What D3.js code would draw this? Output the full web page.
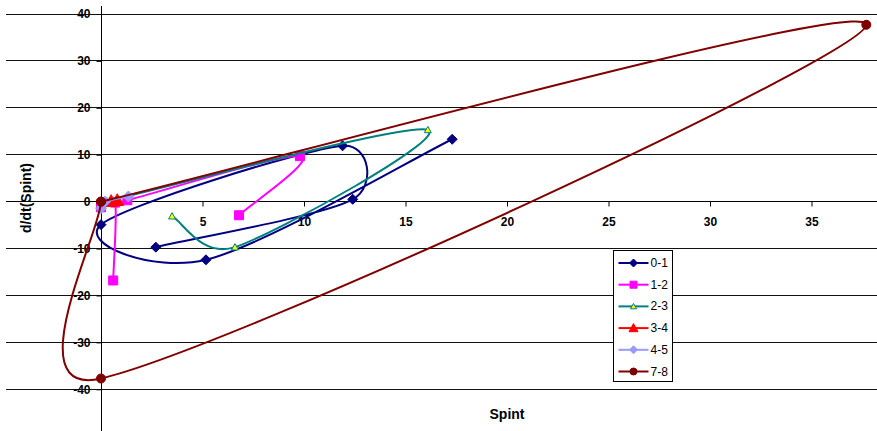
<!DOCTYPE html>
<html>
<head>
<meta charset="utf-8">
<script src="https://cdn.jsdelivr.net/npm/d3@7"></script>
<style>
html, body { margin: 0; padding: 0; background: #fff; }
svg { display: block; font-family: Arial, "Liberation Sans", sans-serif; }
</style>
</head>
<body>
<div id="chart"></div>
<script>
// values: [Spint, d/dt(Spint)]
const seriesNames = ["0-1", "1-2", "2-3", "3-4", "4-5", "7-8"];
const s01 = [[2.7, -9.7], [12.4, 0.5], [11.9, 11.9], [0, -4.9], [5.17, -12.4], [17.3, 13.3]];
const s12 = [[0.6, -16.8], [0.7, -0.2], [0, -1.2], [1.3, 0.3], [9.8, 9.7], [6.8, -2.9]];
const s23 = [[3.5, -3.1], [6.6, -9.7], [16.1, 15.3], [0.3, 0.1]];
const s34 = [[0.5, 0.1], [0.8, 0.3]];
const s45 = [[0, -1.4], [0.2, 0], [1.35, 1.1]];
const s78 = [[0, 0], [37.7, 37.7], [0, -37.7], [0, 0]];
const allSeries = [s01, s12, s23, s34, s45, s78];

const xTicks = [5, 10, 15, 20, 25, 30, 35];
const yTicks = [-40, -30, -20, -10, 0, 10, 20, 30, 40];

// styles
const lineColors = ["#000080", "#FF00FF", "#008080", "#FF0000", "#9999FF", "#800000"];
const markerFill = ["#000080", "#FF00FF", "#FFFF00", "#FF0000", "#9999FF", "#800000"];
const markerShape = ["diamond", "square", "triangle", "triangle", "diamond", "circle"];
const markerSize = [5, 4.5, 3.5, 6.5, 5.5, 4.5];
const legendSize = [4, 3.5, 3, 4.5, 4, 3.5];

const width = 877, height = 431;

const svg = d3.select("#chart")
  .append("svg")
  .attr("width", width)
  .attr("height", height);

svg.append("rect").attr("width", width).attr("height", height).attr("fill", "#fff");

const x = d3.scaleLinear().domain([0, 35]).range([101, 811.5]);
const y = d3.scaleLinear().domain([-40, 40]).range([389.3, 14]);

// marker shapes, size = half width
const shapes = {
  diamond: { draw(c, r) { c.moveTo(0, -r); c.lineTo(r, 0); c.lineTo(0, r); c.lineTo(-r, 0); c.closePath(); } },
  square: { draw(c, r) { c.rect(-r, -r, 2 * r, 2 * r); } },
  triangle: { draw(c, r) { c.moveTo(0, -r); c.lineTo(r, r * 0.8); c.lineTo(-r, r * 0.8); c.closePath(); } },
  circle: { draw(c, r) { c.moveTo(r, 0); c.arc(0, 0, r, 0, 2 * Math.PI); } }
};

// Excel-like smoothed line: 1/6 tangents, clamped to half the segment
function ExcelSmooth(context) { this._context = context; }
ExcelSmooth.prototype = {
  areaStart() {}, areaEnd() {},
  lineStart() { this._pts = []; },
  point(px, py) { this._pts.push([+px, +py]); },
  lineEnd() {
    const p = this._pts, c = this._context, n = p.length;
    if (!n) return;
    c.moveTo(p[0][0], p[0][1]);
    for (let i = 0; i < n - 1; i++) {
      const p0 = p[Math.max(i - 1, 0)], p1 = p[i], p2 = p[i + 1], p3 = p[Math.min(i + 2, n - 1)];
      const half = Math.hypot(p2[0] - p1[0], p2[1] - p1[1]) / 2;
      let ax = (p2[0] - p0[0]) / 6, ay = (p2[1] - p0[1]) / 6;
      let bx = (p3[0] - p1[0]) / 6, by = (p3[1] - p1[1]) / 6;
      const la = Math.hypot(ax, ay), lb = Math.hypot(bx, by);
      if (la > half) { ax *= half / la; ay *= half / la; }
      if (lb > half) { bx *= half / lb; by *= half / lb; }
      c.bezierCurveTo(p1[0] + ax, p1[1] + ay, p2[0] - bx, p2[1] - by, p2[0], p2[1]);
    }
  }
};
const curveExcel = ctx => new ExcelSmooth(ctx);

// gridlines
svg.append("g")
  .selectAll("line")
  .data(yTicks)
  .enter()
  .append("line")
  .attr("x1", 6)
  .attr("x2", width)
  .attr("y1", d => Math.floor(y(d)) + 0.5)
  .attr("y2", d => Math.floor(y(d)) + 0.5)
  .attr("stroke", "#111")
  .attr("stroke-width", 1);

// y axis
const yAxis = svg.append("g")
  .attr("transform", "translate(101.5,0)")
  .call(d3.axisLeft(y).tickValues(yTicks).tickSize(5).tickPadding(6).tickFormat(d => String(d)));
yAxis.select(".domain").remove();
yAxis.selectAll(".tick line").attr("stroke", "#000");
yAxis.selectAll("text").attr("font-size", 12).attr("font-weight", "bold").attr("font-family", "Arial, 'Liberation Sans', sans-serif").attr("fill", "#000");
svg.append("line").attr("x1", 101.5).attr("x2", 101.5).attr("y1", 6).attr("y2", height).attr("stroke", "#000");

// x axis
const xAxis = svg.append("g")
  .attr("transform", "translate(0," + (Math.floor(y(0)) + 0.5) + ")")
  .call(d3.axisBottom(x).tickValues(xTicks).tickSize(5).tickPadding(11).tickFormat(d => String(d)));
xAxis.select(".domain").remove();
xAxis.selectAll(".tick line").attr("stroke", "#000");
xAxis.selectAll("text").attr("font-size", 12).attr("font-weight", "bold").attr("font-family", "Arial, 'Liberation Sans', sans-serif").attr("fill", "#000");
svg.append("line").attr("x1", 6).attr("x2", width).attr("y1", Math.floor(y(0)) + 0.5).attr("y2", Math.floor(y(0)) + 0.5).attr("stroke", "#000");

// axis titles
svg.append("text")
  .attr("transform", "translate(26,198) rotate(-90)")
  .attr("text-anchor", "middle")
  .attr("dominant-baseline", "central")
  .attr("font-size", 14)
  .attr("font-weight", "bold")
  .text("d/dt(Spint)");

svg.append("text")
  .attr("x", 507)
  .attr("y", 414)
  .attr("text-anchor", "middle")
  .attr("dominant-baseline", "central")
  .attr("font-size", 14)
  .attr("font-weight", "bold")
  .text("Spint");

// series
svg.append("clipPath").attr("id", "plotClip")
  .append("rect").attr("x", 6).attr("y", 0).attr("width", width - 6).attr("height", height);

const line = d3.line()
  .x(d => x(d[0]))
  .y(d => y(d[1]))
  .curve(curveExcel);

const plot = svg.append("g").attr("clip-path", "url(#plotClip)");

allSeries.forEach(function (data, i) {
  const g = plot.append("g").attr("class", "series");
  g.append("path")
    .attr("d", line(data))
    .attr("fill", "none")
    .attr("stroke", lineColors[i])
    .attr("stroke-width", 2);
  g.selectAll("path.mark")
    .data(data)
    .enter()
    .append("path")
    .attr("class", "mark")
    .attr("transform", d => "translate(" + x(d[0]) + "," + y(d[1]) + ")")
    .attr("d", d3.symbol(shapes[markerShape[i]], markerSize[i]))
    .attr("fill", markerFill[i])
    .attr("stroke", lineColors[i])
    .attr("stroke-width", 1);
});

// legend
const legend = svg.append("g").attr("transform", "translate(613.5,250.5)");
legend.append("rect")
  .attr("width", 59)
  .attr("height", 131)
  .attr("fill", "#fff")
  .attr("stroke", "#000");

const items = legend.selectAll("g.item")
  .data(seriesNames)
  .enter()
  .append("g")
  .attr("class", "item")
  .attr("transform", (d, i) => "translate(0," + (12.5 + i * 21.7) + ")");

items.append("line")
  .attr("x1", 5).attr("x2", 35)
  .attr("stroke", (d, i) => lineColors[i])
  .attr("stroke-width", 2);
items.append("path")
  .attr("transform", "translate(20,0)")
  .attr("d", (d, i) => d3.symbol(shapes[markerShape[i]], legendSize[i])())
  .attr("fill", (d, i) => markerFill[i])
  .attr("stroke", (d, i) => lineColors[i]);
items.append("text")
  .attr("x", 37)
  .attr("dominant-baseline", "central")
  .attr("font-size", 12)
  .text(d => d);
</script>
</body>
</html>
